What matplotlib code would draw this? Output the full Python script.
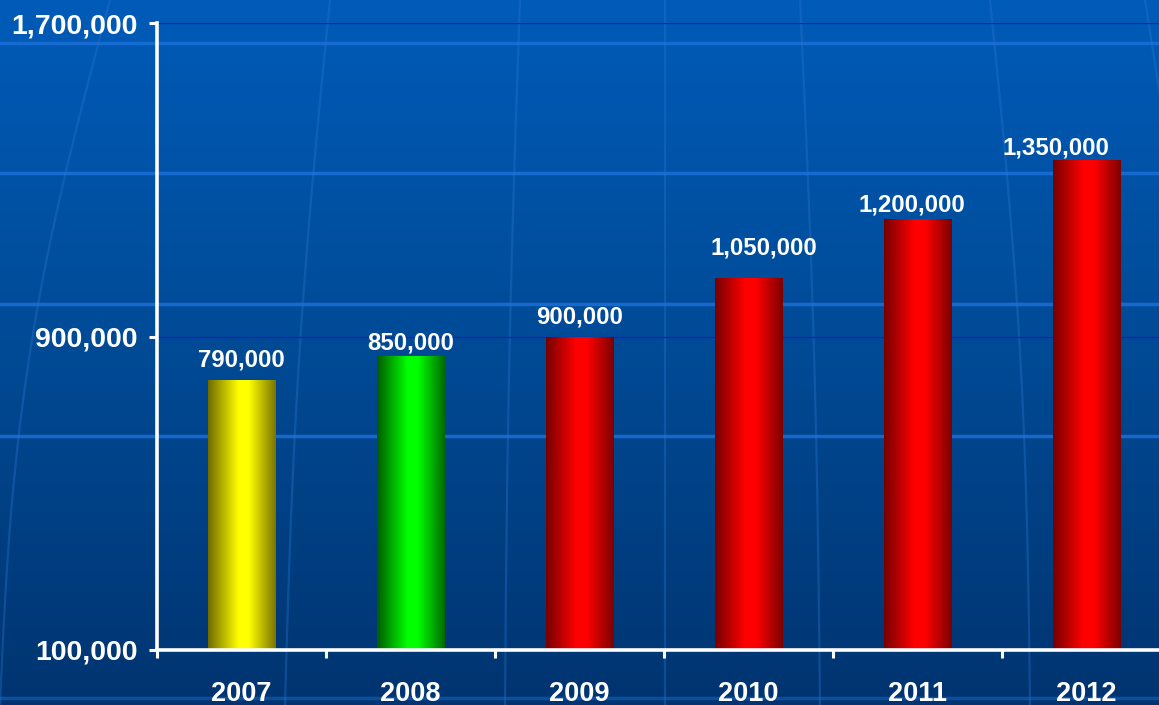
import numpy as np
import matplotlib.pyplot as plt
from matplotlib.colors import LinearSegmentedColormap
from matplotlib.ticker import FuncFormatter

plt.rcParams['font.family'] = ['Liberation Sans', 'DejaVu Sans']

# Data
years = ['2007', '2008', '2009', '2010', '2011', '2012']
values = [790000, 850000, 900000, 1050000, 1200000, 1350000]
bar_tones = ['yellow', 'green', 'red', 'red', 'red', 'red']
y_ticks = [100000, 900000, 1700000]

# value label nudges (points): sideways shift and gap above the bar
label_dx = [0, 0, 0, 11, -4, -22]
label_dy = [6, 1, 6, 13, 2, 0.5]

tone_colors = {
    'yellow': ('#6f6b00', '#ffff00', '#7a7400'),
    'green': ('#005c00', '#00ff00', '#006a00'),
    'red': ('#760000', '#ff0000', '#7c0000'),
}

W, H = 1159, 705
fig = plt.figure(figsize=(W / 100, H / 100), dpi=100)

# Background: vertical blue gradient with faint globe-style grid
bg = fig.add_axes([0, 0, 1, 1])
grad = np.linspace(0, 1, 256).reshape(-1, 1)
bg_cmap = LinearSegmentedColormap.from_list('bg', ['#005bb8', '#004a95', '#003470'])
bg.imshow(grad, cmap=bg_cmap, aspect='auto', extent=(0, W, H, 0))
for yy, a in [(43, 0.85), (173, 0.85), (304, 0.85), (436, 0.85), (698, 0.45)]:
    bg.plot([0, W], [yy, yy], color='#1a6fd8', lw=2.5, alpha=a)
t = np.linspace(0, 1, 50)
for top_x, bot_x, bend in [(110, 0, -25), (330, 285, -8), (520, 505, -3),
                           (665, 665, 0), (800, 820, 4), (990, 1030, 10),
                           (1145, 1200, 18)]:
    xs = top_x + (bot_x - top_x) * t + bend * np.sin(np.pi * t)
    bg.plot(xs, t * H, color='#2a78d0', lw=1.6, alpha=0.35)
bg.set_xlim(0, W)
bg.set_ylim(H, 0)
bg.axis('off')

# Main chart axes
ax = fig.add_axes([157 / W, 55 / H, 1014 / W, 627 / H])
ax.patch.set_alpha(0)

x = np.arange(len(years))
bar_w = 0.40
bars = ax.bar(x, np.array(values) - y_ticks[0], bottom=y_ticks[0], width=bar_w,
              color='none', edgecolor='none', zorder=3)

for rect, tone, val, dx, dy in zip(bars, bar_tones, values, label_dx, label_dy):
    dark_l, bright, dark_r = tone_colors[tone]
    cmap = LinearSegmentedColormap.from_list(
        tone, [(0, dark_l), (0.45, bright), (0.6, bright), (1, dark_r)])
    row = np.linspace(0, 1, 256).reshape(1, -1)
    x0 = rect.get_x()
    im = ax.imshow(row, cmap=cmap, aspect='auto', zorder=3,
                   extent=(x0, x0 + rect.get_width(), y_ticks[0], val))
    im.set_clip_path(rect)
    ax.annotate(f'{val:,}', (rect.get_x() + rect.get_width() / 2, val),
                xytext=(dx, dy), textcoords='offset points', ha='center', va='bottom',
                color='white', fontsize=17.3, fontweight='bold', zorder=5)

for gy in y_ticks[1:]:
    ax.axhline(gy, color='#1a1ad0', lw=0.9, zorder=1)

ax.set_xlim(-0.5, len(years) - 0.5)
ax.set_ylim(y_ticks[0], y_ticks[-1])

ax.set_xticks(x)
ax.set_xticklabels(years)
ax.set_xticks(np.arange(-0.5, len(years), 1.0), minor=True)
ax.tick_params(axis='x', which='major', length=0, pad=22, labelsize=19.5,
               labelcolor='white')
ax.tick_params(axis='x', which='minor', length=6, width=2.2, color='white',
               direction='out')
for lab in ax.get_xticklabels():
    lab.set_fontweight('bold')

ax.set_yticks(y_ticks)
ax.yaxis.set_major_formatter(FuncFormatter(lambda v, p: f'{int(v):,}'))
ax.tick_params(axis='y', length=6, width=2.2, color='white', pad=8,
               labelsize=20.5, labelcolor='white', direction='out')
for lab in ax.get_yticklabels():
    lab.set_fontweight('bold')

for side in ['top', 'right']:
    ax.spines[side].set_visible(False)
for side in ['left', 'bottom']:
    ax.spines[side].set_color('white')
    ax.spines[side].set_linewidth(2.6)
    ax.spines[side].set_zorder(4)

fig.savefig('out.png', dpi=100)
